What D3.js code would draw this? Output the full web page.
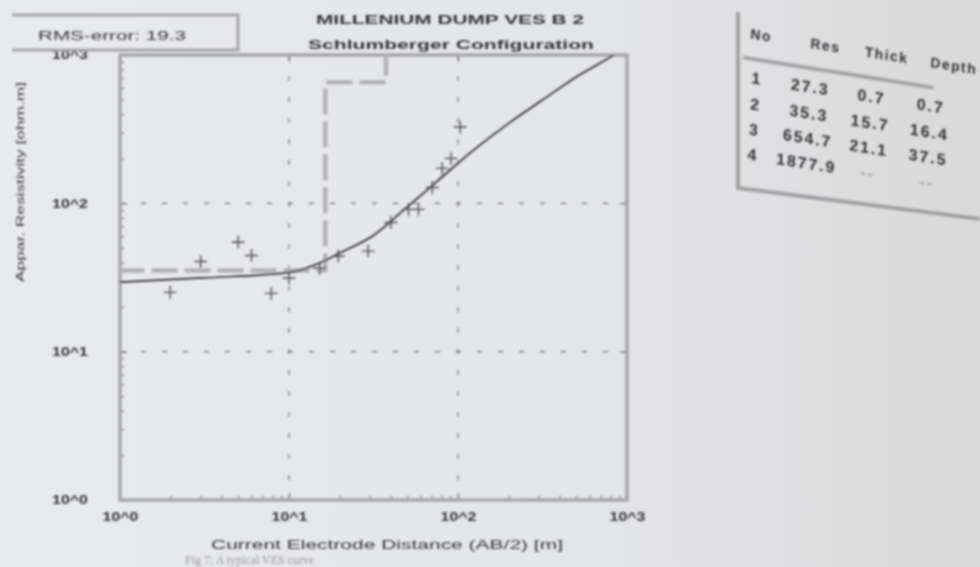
<!DOCTYPE html>
<html>
<head>
<meta charset="utf-8">
<script src="https://cdn.jsdelivr.net/npm/d3@7"></script>
<style>
  body { margin: 0; background: #e4e5e8; }
  svg { display: block; }
</style>
</head>
<body>
<script>
// field data: AB/2 [m] and apparent resistivity [ohm.m]
const obsAB  = [1.98, 3.0, 5.0, 6.0, 7.85, 10, 15.2, 19.6, 29.4, 40, 51, 58.4, 70.5, 80.6, 91, 103];
const obsRho = [25.1, 40.5, 54.7, 44.5, 24.7, 31.4, 36.5, 44, 47.6, 74.3, 91, 91, 128, 172, 201, 327];

// calculated sounding curve
const calcAB  = [1, 3.1, 10, 16, 19.9, 31.4, 49, 76.4, 130, 204, 316, 490, 832, 1000];
const calcRho = [29.4, 31.4, 34.2, 40.7, 46.2, 60.5, 92.5, 143, 239, 353, 497, 700, 1000, 1150];

// layered model
const layerNo    = [1, 2, 3, 4];
const layerRes   = [27.3, 35.3, 654.7, 1877.9];
const layerThick = [0.7, 15.7, 21.1];
const layerDepth = [0.7, 16.4, 37.5];
const tableHead  = ["No", "Res", "Thick", "Depth"];

const tickPowers = [0, 1, 2, 3];
const rmsError = 19.3;

let width = 980, height = 567;
let pLeft = 120, pRight = 627, pTop = 55, pBottom = 500;

let svg = d3.select("body").append("svg")
    .attr("width", width)
    .attr("height", height);

let defs = svg.append("defs");
let grad = defs.append("linearGradient").attr("id", "paper");
grad.append("stop").attr("offset", "0%").attr("stop-color", "#e9eaed");
grad.append("stop").attr("offset", "60%").attr("stop-color", "#e4e5e7");
grad.append("stop").attr("offset", "100%").attr("stop-color", "#d9d9da");
defs.append("filter").attr("id", "soft")
    .append("feGaussianBlur").attr("stdDeviation", 0.8);
defs.append("clipPath").attr("id", "plotclip")
  .append("rect")
    .attr("x", pLeft).attr("y", pTop)
    .attr("width", pRight - pLeft).attr("height", pBottom - pTop);

svg.append("rect")
    .attr("width", width).attr("height", height)
    .style("fill", "url(#paper)");

let g = svg.append("g").attr("filter", "url(#soft)");

let x = d3.scaleLog().domain([1, 1000]).range([pLeft, pRight]);
let y = d3.scaleLog().domain([1, 1000]).range([pBottom, pTop]);

let powLabel = d => {
    let p = Math.round(Math.log10(d));
    return Math.abs(Math.log10(d) - p) < 1e-9 ? "10^" + p : "";
};
let allTicks = x.ticks();
let isMajor = d => powLabel(d) !== "";

// grid at inner decades
let gridVals = tickPowers.slice(1, -1).map(p => Math.pow(10, p));
g.append("g").selectAll("line")
    .data(gridVals)
    .join("line")
      .attr("x1", d => x(d)).attr("x2", d => x(d))
      .attr("y1", pTop).attr("y2", pBottom)
      .style("stroke", "#6e6e70").style("stroke-width", 1.1)
      .style("stroke-dasharray", "5,16");
g.append("g").selectAll("line")
    .data(gridVals)
    .join("line")
      .attr("y1", d => y(d)).attr("y2", d => y(d))
      .attr("x1", pLeft).attr("x2", pRight)
      .style("stroke", "#6e6e70").style("stroke-width", 1.1)
      .style("stroke-dasharray", "5,16");

// axes
let xAxis = g.append("g")
    .attr("transform", `translate(0,${pBottom})`)
    .call(d3.axisBottom(x).tickValues(allTicks).tickFormat(powLabel).tickSize(-7).tickPadding(12));
let yAxis = g.append("g")
    .attr("transform", `translate(${pLeft},0)`)
    .call(d3.axisLeft(y).tickValues(allTicks).tickFormat(powLabel).tickSize(-7).tickPadding(32));
g.append("g")
    .attr("transform", `translate(${pRight},0)`)
    .call(d3.axisRight(y).tickValues(gridVals).tickFormat("").tickSize(-7));
g.append("g")
    .attr("transform", `translate(0,${pTop})`)
    .call(d3.axisTop(x).tickValues(gridVals).tickFormat("").tickSize(-7));

g.selectAll(".domain").remove();
g.selectAll(".tick line").style("stroke", "#707072").style("stroke-width", 1.2);
[xAxis, yAxis].forEach(ax => {
    ax.selectAll(".tick")
      .filter(d => !isMajor(d))
      .select("line")
        .attr(ax === xAxis ? "y2" : "x2", ax === xAxis ? -4 : 4);
    ax.selectAll(".tick text")
        .style("font-family", "Liberation Sans, Arial, sans-serif")
        .style("font-size", "12px")
        .style("font-weight", "bold")
        .style("fill", "#353537")
        .attr("textLength", d => isMajor(d) ? 36 : null)
        .attr("lengthAdjust", "spacingAndGlyphs");
});

// plot frame
g.append("rect")
    .attr("x", pLeft).attr("y", pTop)
    .attr("width", pRight - pLeft).attr("height", pBottom - pTop)
    .style("fill", "none")
    .style("stroke", "#a7a7a9")
    .style("stroke-width", 3.5);

// layered model (step)
let modelPts = layerRes.map((r, i) => ({ab: i === 0 ? 0.5 : layerDepth[i - 1], rho: r}));
modelPts.push({ab: 2000, rho: layerRes[layerRes.length - 1]});
let stepLine = d3.line()
    .x(d => x(d.ab))
    .y(d => y(d.rho))
    .curve(d3.curveStepAfter);
g.append("path")
    .attr("clip-path", "url(#plotclip)")
    .attr("d", stepLine(modelPts))
    .style("fill", "none")
    .style("stroke", "#b3b3b5")
    .style("stroke-width", 4.5)
    .style("stroke-dasharray", "26,7");

// calculated curve
let calc = calcAB.map((a, i) => ({ab: a, rho: calcRho[i]}));
let curve = d3.line()
    .x(d => x(d.ab))
    .y(d => y(d.rho))
    .curve(d3.curveMonotoneX);
g.append("path")
    .attr("clip-path", "url(#plotclip)")
    .attr("d", curve(calc))
    .style("fill", "none")
    .style("stroke", "#303032")
    .style("stroke-width", 1.7);

// observed points
let obs = obsAB.map((a, i) => ({ab: a, rho: obsRho[i]}));
g.append("g").selectAll("path")
    .data(obs)
    .join("path")
      .attr("transform", d => `translate(${x(d.ab)},${y(d.rho)})`)
      .attr("d", d3.symbol(d3.symbolPlus, 55))
      .style("fill", "none")
      .style("stroke", "#505052")
      .style("stroke-width", 1.4);

// titles and labels
let font = "Liberation Sans, Arial, sans-serif";
function label(txt, xPos, yPos, size, len, opts = {}) {
    let t = g.append("text")
        .attr("x", xPos).attr("y", yPos)
        .attr("text-anchor", opts.anchor || "middle")
        .style("font-family", opts.family || font)
        .style("font-size", size + "px")
        .style("font-weight", opts.weight || "normal")
        .style("fill", opts.fill || "#363638")
        .text(txt);
    if (len) t.attr("textLength", len).attr("lengthAdjust", "spacingAndGlyphs");
    if (opts.rotate) t.attr("transform", `rotate(${opts.rotate},${xPos},${yPos})`);
    return t;
}

label("MILLENIUM DUMP VES B 2", 450, 24, 13, 268, {weight: "bold"});
label("Schlumberger Configuration", 451, 49, 13, 286, {weight: "bold"});

// rms box
g.append("path")
    .attr("d", "M12,15 H238 V50 H12")
    .style("fill", "none")
    .style("stroke", "#a7a7a9")
    .style("stroke-width", 3);
label("RMS-error: " + rmsError, 38, 40, 13, 148, {anchor: "start"});

label("Appar. Resistivity [ohm.m]", 24, 182, 11, 200, {rotate: -90});
label("Current Electrode Distance (AB/2) [m]", 387, 549, 12, 352);
label("Fig 7: A typical VES curve", 185, 564, 12, null,
    {anchor: "start", family: "Liberation Serif, serif", fill: "#9a9a9c"});

// layer table
g.append("path")
    .attr("d", "M738,12 V188 L980,219")
    .style("fill", "none")
    .style("stroke", "#a2a2a4")
    .style("stroke-width", 4);

let tbl = g.append("g")
    .attr("transform", "translate(757,78) rotate(9) skewX(6)");
let headX = [2, 67, 129, 197];
let colX = [0, 54, 116, 176];
let rowY = [0, 26, 51, 76];

tbl.append("line")
    .attr("x1", -15).attr("x2", 178)
    .attr("y1", -18).attr("y2", -18)
    .style("stroke", "#a5a5a7").style("stroke-width", 4);

tbl.selectAll("text.head")
    .data(tableHead)
    .join("text")
      .attr("class", "head")
      .attr("x", (d, i) => headX[i]).attr("y", -38)
      .attr("text-anchor", "middle")
      .style("font-family", font).style("font-size", "14px").style("font-weight", "bold")
      .style("letter-spacing", "1.5px")
      .style("fill", "#333335")
      .text(d => d);

let rows = layerNo.map((n, i) => [
    String(n),
    layerRes[i].toFixed(1),
    i < layerThick.length ? layerThick[i].toFixed(1) : "--",
    i < layerDepth.length ? layerDepth[i].toFixed(1) : "--"
]);
rows.forEach((r, ri) => {
    tbl.selectAll("text.r" + ri)
        .data(r)
        .join("text")
          .attr("class", "r" + ri)
          .attr("x", (d, i) => colX[i]).attr("y", rowY[ri] + 6)
          .attr("text-anchor", "middle")
          .style("font-family", font).style("font-size", "16px").style("font-weight", "bold")
          .style("letter-spacing", "2px")
          .style("fill", d => d === "--" ? "#a0a0a2" : "#333335")
          .text(d => d);
});
</script>
</body>
</html>
